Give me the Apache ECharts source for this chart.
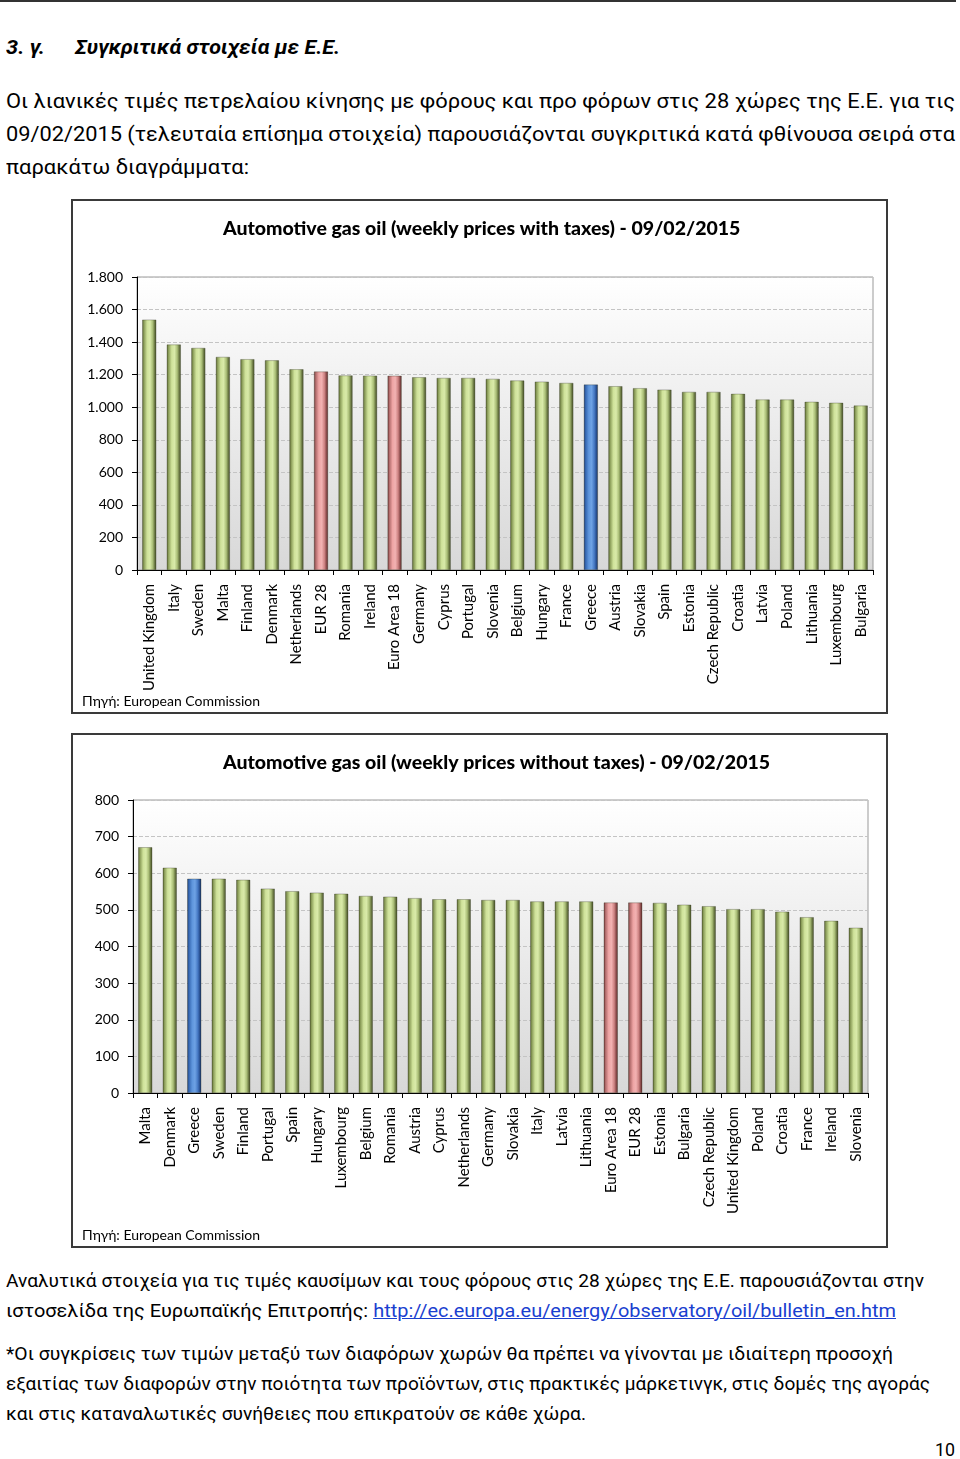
<!DOCTYPE html>
<html><head><meta charset="utf-8">
<script src="https://cdn.jsdelivr.net/npm/echarts/dist/echarts.min.js"></script>
<style>
body{margin:0;background:#fff;}
#page{position:relative;width:960px;height:1459px;overflow:hidden;font-family:Roboto,"Noto Sans",sans-serif;color:#000;}
.ln{position:absolute;white-space:nowrap;line-height:26px;height:26px;font-size:19px;transform-origin:0 50%;display:inline-block;}
.chart{position:absolute;}
a{color:#1a3fd0;text-decoration:underline;}
</style></head>
<body><div id="page">
<div style="position:absolute;left:0;top:0;width:956px;height:2px;background:#333"></div>
<div class="ln" data-x="6" data-y="47" data-r="45" style="font-weight:bold;font-style:italic;font-size:20px">3. γ.</div>
<div class="ln" data-x="75" data-y="47" data-r="340" style="font-weight:bold;font-style:italic;font-size:20px">Συγκριτικά στοιχεία με Ε.Ε.</div>
<div class="ln" data-x="6" data-y="101" data-r="955" style="font-size:20px">Οι λιανικές τιμές πετρελαίου κίνησης με φόρους και προ φόρων στις 28 χώρες της Ε.Ε. για τις</div>
<div class="ln" data-x="6" data-y="134" data-r="955" style="font-size:20px">09/02/2015 (τελευταία επίσημα στοιχεία) παρουσιάζονται συγκριτικά κατά φθίνουσα σειρά στα</div>
<div class="ln" data-x="6" data-y="167" data-r="249" style="font-size:20px">παρακάτω διαγράμματα:</div>

<div id="c1" class="chart" style="left:71px;top:199px;width:818px;height:516px"></div>
<div id="c2" class="chart" style="left:71px;top:733px;width:818px;height:516px"></div>

<div class="ln" data-x="6" data-y="1281" data-r="924">Αναλυτικά στοιχεία για τις τιμές καυσίμων και τους φόρους στις 28 χώρες της Ε.Ε. παρουσιάζονται στην</div>
<div class="ln" data-x="6" data-y="1311" data-r="896">ιστοσελίδα της Ευρωπαϊκής Επιτροπής: <a>http://ec.europa.eu/energy/observatory/oil/bulletin_en.htm</a></div>
<div class="ln" data-x="6" data-y="1354" data-r="893">*Οι συγκρίσεις των τιμών μεταξύ των διαφόρων χωρών θα πρέπει να γίνονται με ιδιαίτερη προσοχή</div>
<div class="ln" data-x="6" data-y="1384" data-r="930">εξαιτίας των διαφορών στην ποιότητα των προϊόντων, στις πρακτικές μάρκετινγκ, στις δομές της αγοράς</div>
<div class="ln" data-x="6" data-y="1414" data-r="586">και στις καταναλωτικές συνήθειες που επικρατούν σε κάθε χώρα.</div>
<div class="ln" data-x="935" data-y="1450" data-r="955">10</div>
</div>
<script>
// ---- data ----
const taxCategories = ['United Kingdom','Italy','Sweden','Malta','Finland','Denmark','Netherlands','EUR 28','Romania','Ireland','Euro Area 18','Germany','Cyprus','Portugal','Slovenia','Belgium','Hungary','France','Greece','Austria','Slovakia','Spain','Estonia','Czech Republic','Croatia','Latvia','Poland','Lithuania','Luxembourg','Bulgaria'];
const taxValues = [1538,1385,1364,1309,1295,1288,1233,1219,1195,1194,1193,1184,1180,1180,1174,1164,1157,1149,1139,1129,1117,1108,1094,1094,1082,1047,1047,1033,1027,1010];
const noTaxCategories = ['Malta','Denmark','Greece','Sweden','Finland','Portugal','Spain','Hungary','Luxembourg','Belgium','Romania','Austria','Cyprus','Netherlands','Germany','Slovakia','Italy','Latvia','Lithuania','Euro Area 18','EUR 28','Estonia','Bulgaria','Czech Republic','United Kingdom','Poland','Croatia','France','Ireland','Slovenia'];
const noTaxValues = [671,615,585,585,582,558,551,547,544,538,536,532,529,529,527,527,523,523,523,520,520,519,514,510,502,502,495,480,470,451];
const taxTicks = {min:0, max:1800, interval:200};
const noTaxTicks = {min:0, max:800, interval:100};
const redCategories = ['EUR 28','Euro Area 18'];
const blueCategories = ['Greece'];
const title1 = 'Automotive gas oil (weekly prices with taxes) - 09/02/2015';
const title2 = 'Automotive gas oil (weekly prices without taxes) - 09/02/2015';
const sourceText = 'Πηγή: European Commission';

// ---- text lines fit ----
document.querySelectorAll('.ln').forEach(el => {
  const x = +el.dataset.x, y = +el.dataset.y, r = +el.dataset.r;
  el.style.left = x + 'px';
  el.style.top = (y - 13) + 'px';
  const w = el.getBoundingClientRect().width;
  if (w > 0) el.style.transform = 'scaleX(' + ((r - x) / w) + ')';
});

function grad(stops) {
  return new echarts.graphic.LinearGradient(0, 0, 1, 0, stops.map(c => ({offset: c[0], color: c[1]})));
}
const greenG = grad([[0,'#55612f'],[0.12,'#8a9c58'],[0.35,'#cfe29a'],[0.55,'#d9eaa9'],[0.75,'#a9bd76'],[0.88,'#6d7b45'],[1,'#46502a']]);
const redG = grad([[0,'#6a3434'],[0.12,'#b06a6a'],[0.35,'#eea4a4'],[0.55,'#f2b2b2'],[0.75,'#cd8282'],[0.88,'#8e4e4e'],[1,'#5a2a2a']]);
const blueG = grad([[0,'#1c3a70'],[0.12,'#3466b0'],[0.35,'#5e95dc'],[0.55,'#6ea2e4'],[0.75,'#4679c4'],[0.88,'#2a5294'],[1,'#1a335f']]);

function fmt(v) { return String(v).replace(/\B(?=(\d{3})+(?!\d))/g, '.'); }

function makeOption(cats, vals, ticks, title, grid) {
  return {
    animation: false,
    textStyle: {fontFamily: 'Lato, Roboto, sans-serif'},
    title: {text: title, left: 152, top: 20, padding: 0, textStyle: {fontFamily: 'Lato, Roboto, sans-serif', fontWeight: 900, fontSize: 19.5, color: '#000'}},
    graphic: [
      {type: 'rect', shape: {x: 1, y: 1, width: 815, height: 513}, style: {fill: 'none', stroke: '#3a3a3a', lineWidth: 2}, z: 10},
      {type: 'text', left: 11, top: 495, style: {text: sourceText, font: '14px Lato, Roboto, sans-serif', fill: '#000'}}
    ],
    grid: Object.assign({show: true, borderColor: '#9a9a9a', borderWidth: 1,
      backgroundColor: new echarts.graphic.LinearGradient(0, 0, 0, 1, [{offset: 0, color: '#ffffff'}, {offset: 1, color: '#d8d8d8'}])}, grid),
    xAxis: {
      type: 'category', data: cats, boundaryGap: true,
      axisLine: {show: true, lineStyle: {color: '#000', width: 1}},
      axisTick: {show: true, length: 5, lineStyle: {color: '#000'}},
      axisLabel: {interval: 0, rotate: 90, fontSize: 15, color: '#000', margin: 14, fontFamily: 'Lato, Roboto, sans-serif'}
    },
    yAxis: {
      type: 'value', min: ticks.min, max: ticks.max, interval: ticks.interval,
      axisLine: {show: true, lineStyle: {color: '#000', width: 1}},
      axisTick: {show: true, length: 5, lineStyle: {color: '#000'}},
      axisLabel: {fontSize: 14, color: '#000', margin: 14, formatter: fmt, fontFamily: 'Lato, Roboto, sans-serif'},
      splitLine: {show: true, lineStyle: {type: 'dashed', color: '#c4c4c4'}}
    },
    series: [{
      type: 'bar', barWidth: 14,
      data: vals.map((v, i) => ({
        value: v,
        itemStyle: {color: redCategories.includes(cats[i]) ? redG : blueCategories.includes(cats[i]) ? blueG : greenG,
          borderColor: 'rgba(40,45,25,0.6)', borderWidth: 0.5}
      }))
    }]
  };
}

const c1 = echarts.init(document.getElementById('c1'), null, {renderer: 'canvas'});
c1.setOption(makeOption(taxCategories, taxValues, taxTicks, title1, {left: 66, top: 78, width: 736, height: 293}));
const c2 = echarts.init(document.getElementById('c2'), null, {renderer: 'canvas'});
c2.setOption(makeOption(noTaxCategories, noTaxValues, noTaxTicks, title2, {left: 62, top: 67, width: 735, height: 293}));
</script>
</body></html>
